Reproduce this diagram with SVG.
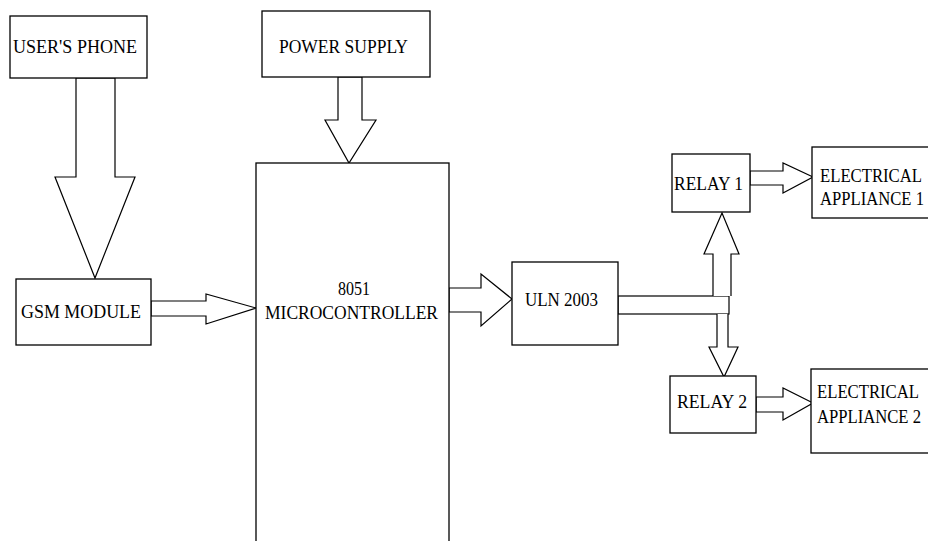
<svg xmlns="http://www.w3.org/2000/svg" width="928" height="541" viewBox="0 0 928 541">
<style>
.box{fill:#fff;stroke:#000;stroke-width:1.3}
.arr{fill:#fff;stroke:#000;stroke-width:1.2;stroke-linejoin:miter}
.lbl{font-family:"Liberation Serif","Times New Roman",serif;font-size:19px;fill:#000}
</style>
<rect width="928" height="541" fill="#fff"/>
<g id="connectors">
<polygon class="arr" points="76,78 115,78 115,177 135,177 95,278 55,177 76,177"/>
<polygon class="arr" points="338,77 362,77 362,120 376,120 349,163 325,120 338,120"/>
<polygon class="arr" points="151,301 206,301 206,294 256,308 206,324 206,316 151,316"/>
<polygon class="arr" points="449,288 481,288 481,274 512,299 481,326 481,312 449,312"/>
<rect class="arr" x="618" y="296" width="111" height="18"/>
<polyline class="arr" points="713,296 713,254 704,254 722,213 739,254 731,254 731,296"/>
<polyline class="arr" points="717,314 717,347 709,347 724,377 738,347 728,347 728,314"/>
<polygon class="arr" points="750,171 783,171 783,163 813,177 783,193 783,185 750,185"/>
<polygon class="arr" points="756,397 783,397 783,388 813,403 783,420 783,412 756,412"/>
</g>
<g id="users-phone">
<rect class="box" x="10" y="16" width="137" height="62"/>
<text class="lbl" x="13" y="53" textLength="124" lengthAdjust="spacingAndGlyphs">USER'S PHONE</text>
</g>
<g id="power-supply">
<rect class="box" x="262" y="11" width="168" height="66"/>
<text class="lbl" x="279" y="53" textLength="129" lengthAdjust="spacingAndGlyphs">POWER SUPPLY</text>
</g>
<g id="gsm-module">
<rect class="box" x="16" y="279" width="135" height="66"/>
<text class="lbl" x="21" y="318" textLength="120" lengthAdjust="spacingAndGlyphs">GSM MODULE</text>
</g>
<g id="microcontroller">
<rect class="box" x="256" y="163" width="193" height="390"/>
<text class="lbl" x="338" y="295" textLength="32" lengthAdjust="spacingAndGlyphs">8051</text>
<text class="lbl" x="265" y="319" textLength="173" lengthAdjust="spacingAndGlyphs">MICROCONTROLLER</text>
</g>
<g id="uln2003">
<rect class="box" x="512" y="262" width="106" height="83"/>
<text class="lbl" x="525" y="306" textLength="73" lengthAdjust="spacingAndGlyphs">ULN 2003</text>
</g>
<g id="relay1">
<rect class="box" x="672" y="154" width="78" height="58"/>
<text class="lbl" x="674" y="190" textLength="69" lengthAdjust="spacingAndGlyphs">RELAY 1</text>
</g>
<g id="relay2">
<rect class="box" x="670" y="376" width="86" height="57"/>
<text class="lbl" x="677" y="408" textLength="70" lengthAdjust="spacingAndGlyphs">RELAY 2</text>
</g>
<g id="appliance1">
<rect class="box" x="812" y="147" width="130" height="71"/>
<text class="lbl" x="820" y="182" textLength="102" lengthAdjust="spacingAndGlyphs">ELECTRICAL</text>
<text class="lbl" x="820" y="205" textLength="104" lengthAdjust="spacingAndGlyphs">APPLIANCE 1</text>
</g>
<g id="appliance2">
<rect class="box" x="811" y="369" width="130" height="84"/>
<text class="lbl" x="817" y="398" textLength="102" lengthAdjust="spacingAndGlyphs">ELECTRICAL</text>
<text class="lbl" x="817" y="423" textLength="104" lengthAdjust="spacingAndGlyphs">APPLIANCE 2</text>
</g>
</svg>
